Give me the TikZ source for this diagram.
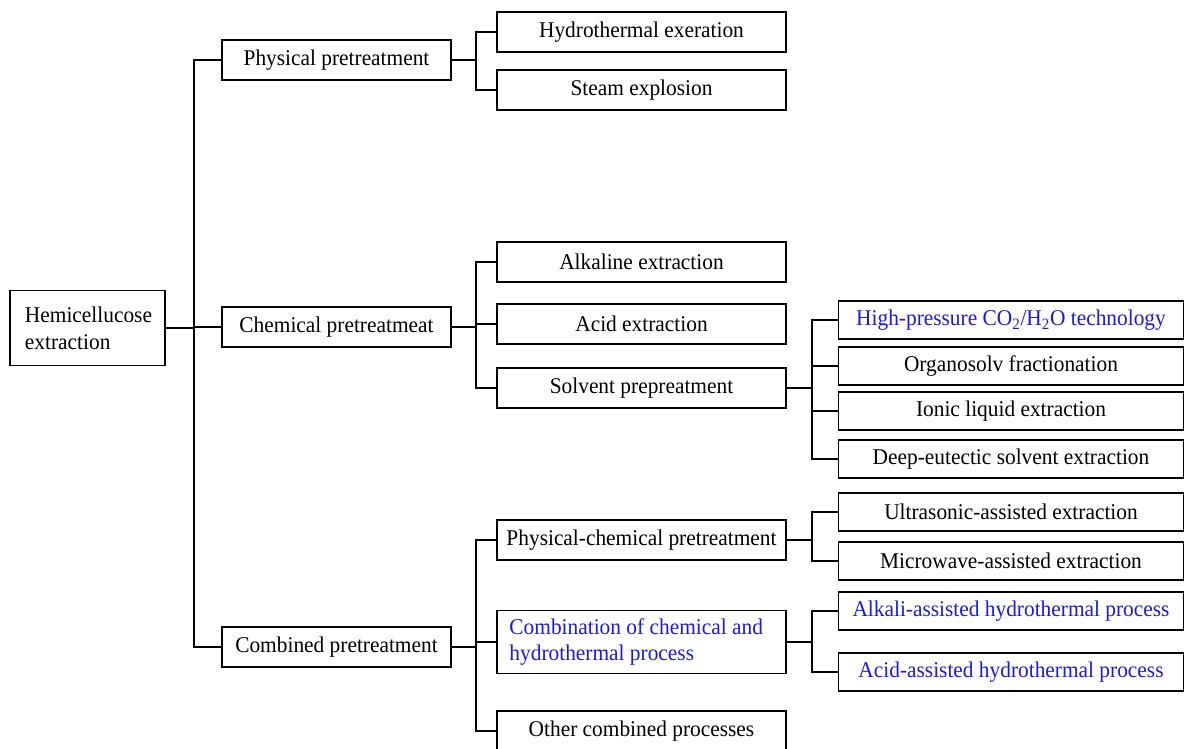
\documentclass[tikz,border=0pt]{standalone}
\usepackage{fontspec}
\setmainfont{Liberation Serif}[FakeStretch=0.95]
\usetikzlibrary{positioning}
\definecolor{hlblue}{RGB}{25,25,235}
\tikzset{
  box/.style={draw,line width=1.3pt,inner sep=2pt,font=\fontsize{16}{19}\selectfont},
  lvlone/.style={box,minimum width=5.725cm,minimum height=1cm},
  lvltwo/.style={box,minimum width=7.225cm,minimum height=1cm},
  lvlthree/.style={box,minimum width=8.625cm,minimum height=0.95cm},
  hl/.style={text=hlblue}
}
\begin{document}
\begin{tikzpicture}[x=0.025cm,y=-0.025cm,line width=1.3pt]
\useasboundingbox (0,0) rectangle (1184,749);
\node[box,minimum width=3.875cm,minimum height=1.875cm,inner xsep=0.375cm,text width=3.125cm,align=flush left] (hemi) at (87.5,328) {Hemicellucose\\extraction};
\node[lvlone] (phys) at (336.5,60) {Physical pretreatment};
\node[lvlone] (chem) at (336.5,327) {Chemical pretreatmeat};
\node[lvlone] (comb) at (336.5,647) {Combined pretreatment};
\node[lvltwo] (hydro) at (641.5,32) {Hydrothermal exeration};
\node[lvltwo] (steam) at (641.5,90) {Steam explosion};
\node[lvltwo] (alk) at (641.5,262) {Alkaline extraction};
\node[lvltwo] (acid) at (641.5,324) {Acid extraction};
\node[lvltwo] (solv) at (641.5,388) {Solvent prepreatment};
\node[lvltwo] (pc) at (641.5,540) {Physical-chemical pretreatment};
\node[lvltwo,minimum height=1.575cm,inner xsep=0.3cm,text width=6.6cm,align=flush left,hl] (cm) at (641.5,642) {Combination of chemical and\\hydrothermal process};
\node[lvltwo] (oth) at (641.5,731) {Other combined processes};
\node[lvlthree,hl] (hp) at (1011,320) {High-pressure CO\textsubscript{2}/H\textsubscript{2}O technology};
\node[lvlthree] (org) at (1011,366) {Organosolv fractionation};
\node[lvlthree] (ion) at (1011,411) {Ionic liquid extraction};
\node[lvlthree] (des) at (1011,459) {Deep-eutectic solvent extraction};
\node[lvlthree] (us) at (1011,512) {Ultrasonic-assisted extraction};
\node[lvlthree] (mw) at (1011,561) {Microwave-assisted extraction};
\node[lvlthree,hl] (alkh) at (1011,611) {Alkali-assisted hydrothermal process};
\node[lvlthree,hl] (acidh) at (1011,672) {Acid-assisted hydrothermal process};
\foreach \c in {phys,chem,comb} \draw (hemi.east) -- ++(28,0) |- (\c.west);
\foreach \c in {hydro,steam} \draw (phys.east) -- ++(24,0) |- (\c.west);
\foreach \c in {alk,acid,solv} \draw (chem.east) -- ++(24,0) |- (\c.west);
\foreach \c in {pc,cm,oth} \draw (comb.east) -- ++(24,0) |- (\c.west);
\foreach \c in {hp,org,ion,des} \draw (solv.east) -- ++(25,0) |- (\c.west);
\foreach \c in {us,mw} \draw (pc.east) -- ++(25,0) |- (\c.west);
\foreach \c in {alkh,acidh} \draw (cm.east) -- ++(25,0) |- (\c.west);
\end{tikzpicture}
\end{document}
